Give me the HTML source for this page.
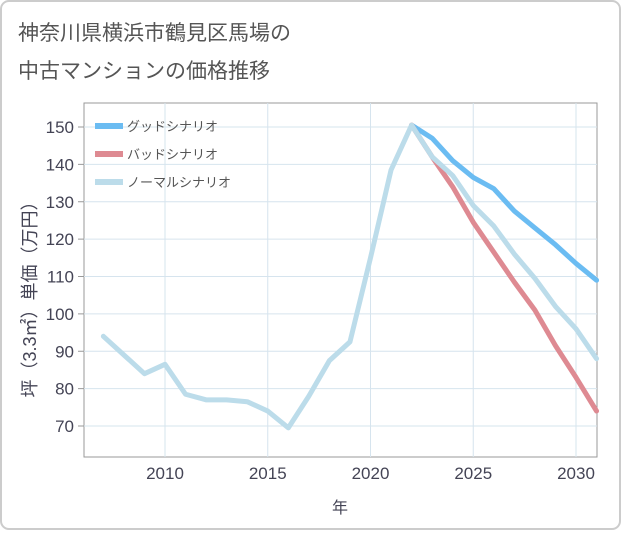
<!DOCTYPE html>
<html><head><meta charset="utf-8"><style>
body{margin:0;background:#fff;}
svg text{font-family:"Liberation Sans","Noto Sans CJK JP",sans-serif;}
</style></head><body>
<svg width="621" height="530" xmlns="http://www.w3.org/2000/svg">
<rect x="1" y="1" width="619" height="528" rx="8" fill="#fff" stroke="#ccc" stroke-width="2"/>
<text x="18" y="40" font-size="21" fill="#555">神奈川県横浜市鶴見区馬場の</text>
<text x="18" y="78" font-size="21" fill="#555">中古マンションの価格推移</text>
<rect x="84" y="103" width="513" height="354" fill="#fff" stroke="#999"/>
<g id="grid"></g>
<g id="series"></g>
<g id="axes"></g>
<text transform="translate(36,295) rotate(-90)" text-anchor="middle" font-size="18" fill="#445">坪（3.3㎡）単価（万円）</text>
<text x="340" y="513" text-anchor="middle" font-size="16" fill="#445">年</text>
<g>
<line x1="95" y1="126" x2="123" y2="126" stroke="#6bbcf2" stroke-width="6"/>
<text x="127" y="131" font-size="13" fill="#555">グッドシナリオ</text>
<line x1="95" y1="154" x2="123" y2="154" stroke="#de8a92" stroke-width="6"/>
<text x="127" y="159" font-size="13" fill="#555">バッドシナリオ</text>
<line x1="95" y1="182" x2="123" y2="182" stroke="#bcdcea" stroke-width="6"/>
<text x="127" y="187" font-size="13" fill="#555">ノーマルシナリオ</text>
</g>
</svg>
<script>
const normalYears=[2007,2008,2009,2010,2011,2012,2013,2014,2015,2016,2017,2018,2019,2020,2021,2022,2023,2024,2025,2026,2027,2028,2029,2030,2031];
const normalValues=[94,89,84,86.5,78.5,77,77,76.5,74,69.5,78,87.5,92.5,115,138.5,150.5,142,137,129,123.5,116,109.5,102,96,88];
const forecastYears=[2022,2023,2024,2025,2026,2027,2028,2029,2030,2031];
const goodValues=[150.5,147,141,136.5,133.5,127.5,123,118.5,113.5,109];
const badValues=[150.5,142,134,124.5,116.5,108.5,101,91.5,83,74];
const yTicks=[70,80,90,100,110,120,130,140,150];
const xTicks=[2010,2015,2020,2025,2030];
const NS="http://www.w3.org/2000/svg";
const X=y=>165+(y-2010)*20.55;
const Y=v=>426-(v-70)*3.7375;
function mk(t,a,p){const e=document.createElementNS(NS,t);for(const k in a)e.setAttribute(k,a[k]);document.getElementById(p).appendChild(e);return e;}
yTicks.forEach(v=>{
 const l=mk('line',{x1:84,x2:597,y1:Y(v),y2:Y(v),stroke:'#d6e4ee'},'grid');
 
 
 const tk=mk('line',{x1:78,x2:84,y1:Y(v),y2:Y(v),stroke:'#999'},'axes');
 
 
 const t=mk('text',{x:74,y:Y(v)+6,'text-anchor':'end','font-size':17,fill:'#445'},'axes');
 t.textContent=v;
 
 
});
xTicks.forEach(v=>{
 const l=mk('line',{x1:X(v),x2:X(v),y1:103,y2:457,stroke:'#d6e4ee'},'grid');
 
 
 const t=mk('text',{x:X(v),y:479,'text-anchor':'middle','font-size':17,fill:'#445'},'axes');
 t.textContent=v;
 
 
});
function line(xs,vs,c,name){
 const p=mk('polyline',{points:xs.map((x,i)=>X(x)+','+Y(vs[i])).join(' '),fill:'none',stroke:c,'stroke-width':5,'stroke-linejoin':'round','stroke-linecap':'round'},'series');
 
 
}
line(forecastYears,goodValues,'#6bbcf2','good-scenario-line');
line(forecastYears,badValues,'#de8a92','bad-scenario-line');
line(normalYears,normalValues,'#bcdcea','normal-scenario-line');
</script>
</body></html>
